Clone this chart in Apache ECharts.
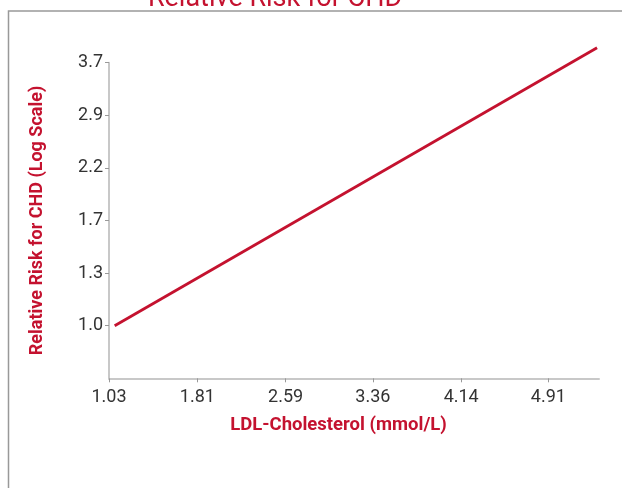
<!DOCTYPE html>
<html>
<head>
<meta charset="utf-8">
<script src="https://cdn.jsdelivr.net/npm/echarts@6/dist/echarts.min.js"></script>
<style>
  html, body { margin: 0; padding: 0; background: #fff; }
  #chart { width: 622px; height: 488px; }
</style>
</head>
<body>
<div id="chart"></div>
<script>
// LDL in mmol/L (ticks are 40..190 mg/dL in steps of 30)
const xTicks = [1.03, 1.81, 2.59, 3.36, 4.14, 4.91];
const ldl = [1.08, 5.34];
const relRisk = [1.0, 4.0];

const red = "#c4122f";
const chart = echarts.init(document.getElementById("chart"));

chart.setOption({
  animation: false,
  title: {
    text: "Relative Risk for CHD",
    left: 270,
    top: -19,
    textAlign: "center",
    textStyle: { color: red, fontSize: 27, fontWeight: "normal", fontFamily: "Roboto" },
  },
  graphic: [
    {
      type: "rect",
      shape: { x: 8.5, y: 11, width: 700, height: 600 },
      style: { fill: "none", stroke: "#999", lineWidth: 1.5 },
    },
  ],
  grid: { left: 109, right: 23, top: 62.7, bottom: 109.7 },
  xAxis: {
    type: "value",
    min: 1.03,
    max: 5.357,
    name: "LDL-Cholesterol (mmol/L)",
    nameLocation: "middle",
    nameGap: 38,
    nameTextStyle: {
      color: red, fontSize: 18.5, fontWeight: "bold", fontFamily: "Roboto",
      padding: [0, 31, 0, 0],
    },
    axisLine: { lineStyle: { color: "#c8c8c8", width: 2 } },
    axisTick: { customValues: xTicks, length: 4, lineStyle: { color: "#999" } },
    axisLabel: {
      customValues: xTicks,
      margin: 10,
      color: "#333",
      fontSize: 18,
      fontFamily: "Roboto",
      formatter: (v) => v.toFixed(2),
    },
    splitLine: { show: false },
  },
  yAxis: {
    type: "log",
    logBase: 1.3,
    min: 1 / 1.3,
    max: Math.pow(1.3, 5),
    interval: 1,
    name: "Relative Risk for CHD (Log Scale)",
    nameLocation: "middle",
    nameGap: 63,
    nameTextStyle: { color: red, fontSize: 18, fontWeight: "bold", fontFamily: "Roboto" },
    axisLine: { show: true, lineStyle: { color: "#c8c8c8", width: 2 } },
    axisTick: { show: true, length: 4, lineStyle: { color: "#999" } },
    axisLabel: {
      showMinLabel: false,
      margin: 6,
      color: "#333",
      fontSize: 18,
      fontFamily: "Roboto",
      formatter: (v) => v.toFixed(1),
    },
    splitLine: { show: false },
  },
  series: [
    {
      type: "line",
      data: ldl.map((x, i) => [x, relRisk[i]]),
      symbol: "none",
      clip: false,
      lineStyle: { color: red, width: 2.8 },
    },
  ],
});
</script>
</body>
</html>
